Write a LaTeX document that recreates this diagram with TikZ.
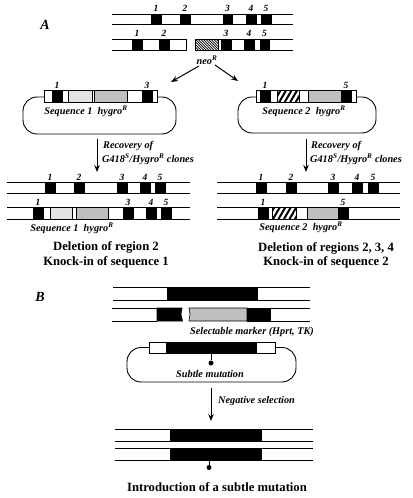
\documentclass[tikz,border=0pt]{standalone}
\usepackage{fontspec}
\setmainfont{Liberation Serif}
\usetikzlibrary{arrows.meta}
\newcommand\exonrow[3]{\foreach \a/\b in {#3} {\draw[exonbox] (\a,#1) rectangle (\b,#2);}}
\begin{document}
\begin{tikzpicture}[x=1bp,y=-1bp,
 trk/.style={line width=0.9bp},
 exonbox/.style={fill=black,draw=black,line width=0.6bp},
 lgrey/.style={fill=gray!22,draw=black,line width=0.6bp},
 dgrey/.style={fill=gray!50,draw=black,line width=0.6bp},
 wbox/.style={fill=white,draw=black,line width=0.8bp},
 loopline/.style={draw=black,line width=0.9bp,rounded corners=14bp},
 num/.style={font=\fontsize{9.5}{9.5}\selectfont\bfseries\itshape,inner sep=0pt},
 lab/.style={font=\fontsize{10.3}{10.3}\selectfont\bfseries\itshape,inner sep=0pt},
 big/.style={font=\fontsize{12.7}{14.5}\selectfont\bfseries,inner sep=0pt,align=center},
 panel/.style={font=\fontsize{14}{14}\selectfont\bfseries\itshape,inner sep=0pt},
 arr/.style={-{Stealth[length=7bp,width=5.5bp]},line width=1bp}
]
\useasboundingbox (0,0) rectangle (412,498);

% ---------------- Panel A ----------------
\node[panel] (pA) at (45,25) {A};

% top track 1
\draw[trk] (112,14) -- (293,14) (112,24.5) -- (293,24.5);
\exonrow{14}{24.5}{151/161,180/190,223/232,246/256,261/271}
\node[num] (t1a) at (156,8) {1};
\node[num] (t1b) at (185,8) {2};
\node[num] (t1c) at (227.5,8) {3};
\node[num] (t1d) at (251,8) {4};
\node[num] (t1e) at (266,8) {5};

% top track 2 (targeted)
\draw[trk] (112,39.5) -- (186,39.5) -- (186,50) -- (112,50);
\draw[trk] (195,39.5) -- (293,39.5) (195,50) -- (293,50);
\exonrow{39.5}{50}{132/142,159/169,221/231,244/254,260/269}
\begin{scope}
 \clip (195,39.5) rectangle (218,50);
 \foreach \s in {180,182.6,...,222} {\draw[line width=0.7bp] (\s,39.5) -- (\s+10.5,50);}
\end{scope}
\draw[line width=0.8bp] (195,39.5) rectangle (218,50);
\node[num] (t2a) at (137,33) {1};
\node[num] (t2b) at (164,33) {2};
\node[num] (t2c) at (226,33) {3};
\node[num] (t2d) at (249,33) {4};
\node[num] (t2e) at (264.5,33) {5};
\node[lab] (neo) at (207,60) {neo\textsuperscript{R}};

\coordinate (a1s) at (199,66);
\coordinate (a1e) at (171,82);
\coordinate (a2s) at (215,65);
\coordinate (a2e) at (238,81);
\draw[arr] (a1s) -- (a1e);
\draw[arr] (a2s) -- (a2e);

% left plasmid
\draw[loopline] (23,97) rectangle (176,134);
\draw[wbox] (44,90.5) rectangle (157,102.5);
\draw[exonbox] (52,90.5) rectangle (62,102.5);
\draw[lgrey] (68,90.5) rectangle (92.5,102.5);
\draw[dgrey] (94.5,90.5) rectangle (127,102.5);
\draw[exonbox] (142,90.5) rectangle (152,102.5);
\node[num] (p1a) at (57,85) {1};
\node[num] (p1b) at (147,85) {3};
\node[lab] (seq1) at (86,111) {Sequence 1\ \ hygro\textsuperscript{R}};

% right plasmid
\draw[loopline] (238,97) rectangle (376,133);
\draw[wbox] (256,90.5) rectangle (356,102.5);
\draw[exonbox] (260,90.5) rectangle (270,102.5);
\begin{scope}
 \clip (277,90.5) rectangle (299,102.5);
 \foreach \s in {268,273.5,...,305} {\draw[line width=2bp] (\s,102.5) -- (\s+7,90.5);}
\end{scope}
\draw[line width=0.6bp] (277,90.5) rectangle (299,102.5);
\draw[dgrey] (308,90.5) rectangle (341,102.5);
\draw[exonbox] (341,90.5) rectangle (351,102.5);
\node[num] (p2a) at (265,85) {1};
\node[num] (p2b) at (346,85) {5};
\node[lab] (seq2) at (304,111) {Sequence 2\ \ hygro\textsuperscript{R}};

% recovery arrows
\coordinate (r1s) at (97,139);
\coordinate (r1e) at (97,172);
\coordinate (r2s) at (306,139);
\coordinate (r2e) at (306,172);
\draw[arr] (r1s) -- (r1e);
\draw[arr] (r2s) -- (r2e);
\node[lab,anchor=west] (rec1a) at (103,146) {Recovery of};
\node[lab,anchor=west] (rec1b) at (102,159.5) {G418\textsuperscript{S}/Hygro\textsuperscript{R} clones};
\node[lab,anchor=west] (rec2a) at (311,146) {Recovery of};
\node[lab,anchor=west] (rec2b) at (310,159.5) {G418\textsuperscript{S}/Hygro\textsuperscript{R} clones};

% bottom left tracks
\draw[trk] (7,182.5) -- (190,182.5) (7,193.5) -- (190,193.5);
\exonrow{182.5}{193.5}{45/55,74/84,117/127,140/150,155/165}
\node[num] (l1a) at (50,177) {1};
\node[num] (l1b) at (79,177) {2};
\node[num] (l1c) at (122,177) {3};
\node[num] (l1d) at (145,177) {4};
\node[num] (l1e) at (160,177) {5};
\draw[trk] (7,207) -- (190,207) (7,219) -- (190,219);
\exonrow{207}{219}{33/43,123/133,146/156,161/171}
\draw[lgrey] (50,207) rectangle (72,219);
\draw[dgrey] (76,207) rectangle (108,219);
\node[num] (l2a) at (38,202) {1};
\node[num] (l2c) at (128,202) {3};
\node[num] (l2d) at (151,202) {4};
\node[num] (l2e) at (166,202) {5};
\node[lab] (seq1b) at (72,228) {Sequence 1\ \ hygro\textsuperscript{R}};
\node[big] (res1) at (106,255) {Deletion of region 2\\Knock-in of sequence 1};

% bottom right tracks
\draw[trk] (217,182.5) -- (400,182.5) (217,193.5) -- (400,193.5);
\exonrow{182.5}{193.5}{256/266,286/296,328/338,352/362,368/378}
\node[num] (r1a) at (261,177) {1};
\node[num] (r1b) at (291,177) {2};
\node[num] (r1c) at (333,177) {3};
\node[num] (r1d) at (357,177) {4};
\node[num] (r1f) at (373,177) {5};
\draw[trk] (217,207) -- (400,207) (217,219) -- (400,219);
\exonrow{207}{219}{258/268,338/348}
\begin{scope}
 \clip (272,207) rectangle (296,219);
 \foreach \s in {262,267.5,...,302} {\draw[line width=2bp] (\s,219) -- (\s+7,207);}
\end{scope}
\draw[line width=0.6bp] (272,207) rectangle (296,219);
\draw[dgrey] (307,207) rectangle (338,219);
\node[num] (r2a) at (263,202) {1};
\node[num] (r2f) at (343,202) {5};
\node[lab] (seq2b) at (301,227) {Sequence 2\ \ hygro\textsuperscript{R}};
\node[big] (res2) at (326,255.5) {Deletion of regions 2, 3, 4\\Knock-in of sequence 2};

% ---------------- Panel B ----------------
\node[panel] (pB) at (40,297) {B};
\draw[trk] (113,287) -- (310,287) (113,300) -- (310,300);
\draw[exonbox] (167,287) rectangle (257,300);
% targeted
\draw[trk] (112,308) -- (157,308) (112,321) -- (157,321);
\draw[exonbox] (157,308) -- (182,308) -- (181,314) -- (182.5,321) -- (157,321) -- cycle;
\draw[trk] (270,308) -- (310,308) (270,321) -- (310,321);
\draw[dgrey] (189,308) -- (247,308) -- (247,321) -- (189,321) -- (190,314) -- cycle;
\draw[exonbox] (247,308) rectangle (270,321);
\node[lab] (selm) at (252,332) {Selectable marker (Hprt, TK)};

% plasmid B
\draw[loopline] (127,347.5) rectangle (296,382);
\draw[wbox] (149,342) rectangle (275,353);
\draw[exonbox] (166,342) rectangle (256,353);
\coordinate (m1a) at (211,353);
\node[circle,fill=black,inner sep=0pt,minimum size=5bp] (m1) at (211,363) {};
\draw[line width=0.9bp] (m1a) -- (m1);
\node[lab] (subt) at (210,373.5) {Subtle mutation};

\coordinate (nss) at (211,388);
\coordinate (nse) at (211,421);
\draw[arr] (nss) -- (nse);
\node[lab,anchor=west] (negs) at (218,401) {Negative selection};

% final
\draw[trk] (115,429) -- (313,429) (115,441) -- (313,441);
\draw[exonbox] (170,429) rectangle (261,441);
\draw[trk] (115,448) -- (313,448) (115,460) -- (313,460);
\draw[exonbox] (170,448) rectangle (261,460);
\coordinate (m2a) at (209,460);
\node[circle,fill=black,inner sep=0pt,minimum size=5bp] (m2) at (209,467.5) {};
\draw[line width=0.9bp] (m2a) -- (m2);
\node[big] (intro) at (217,487) {Introduction of a subtle mutation};
\end{tikzpicture}
\end{document}
